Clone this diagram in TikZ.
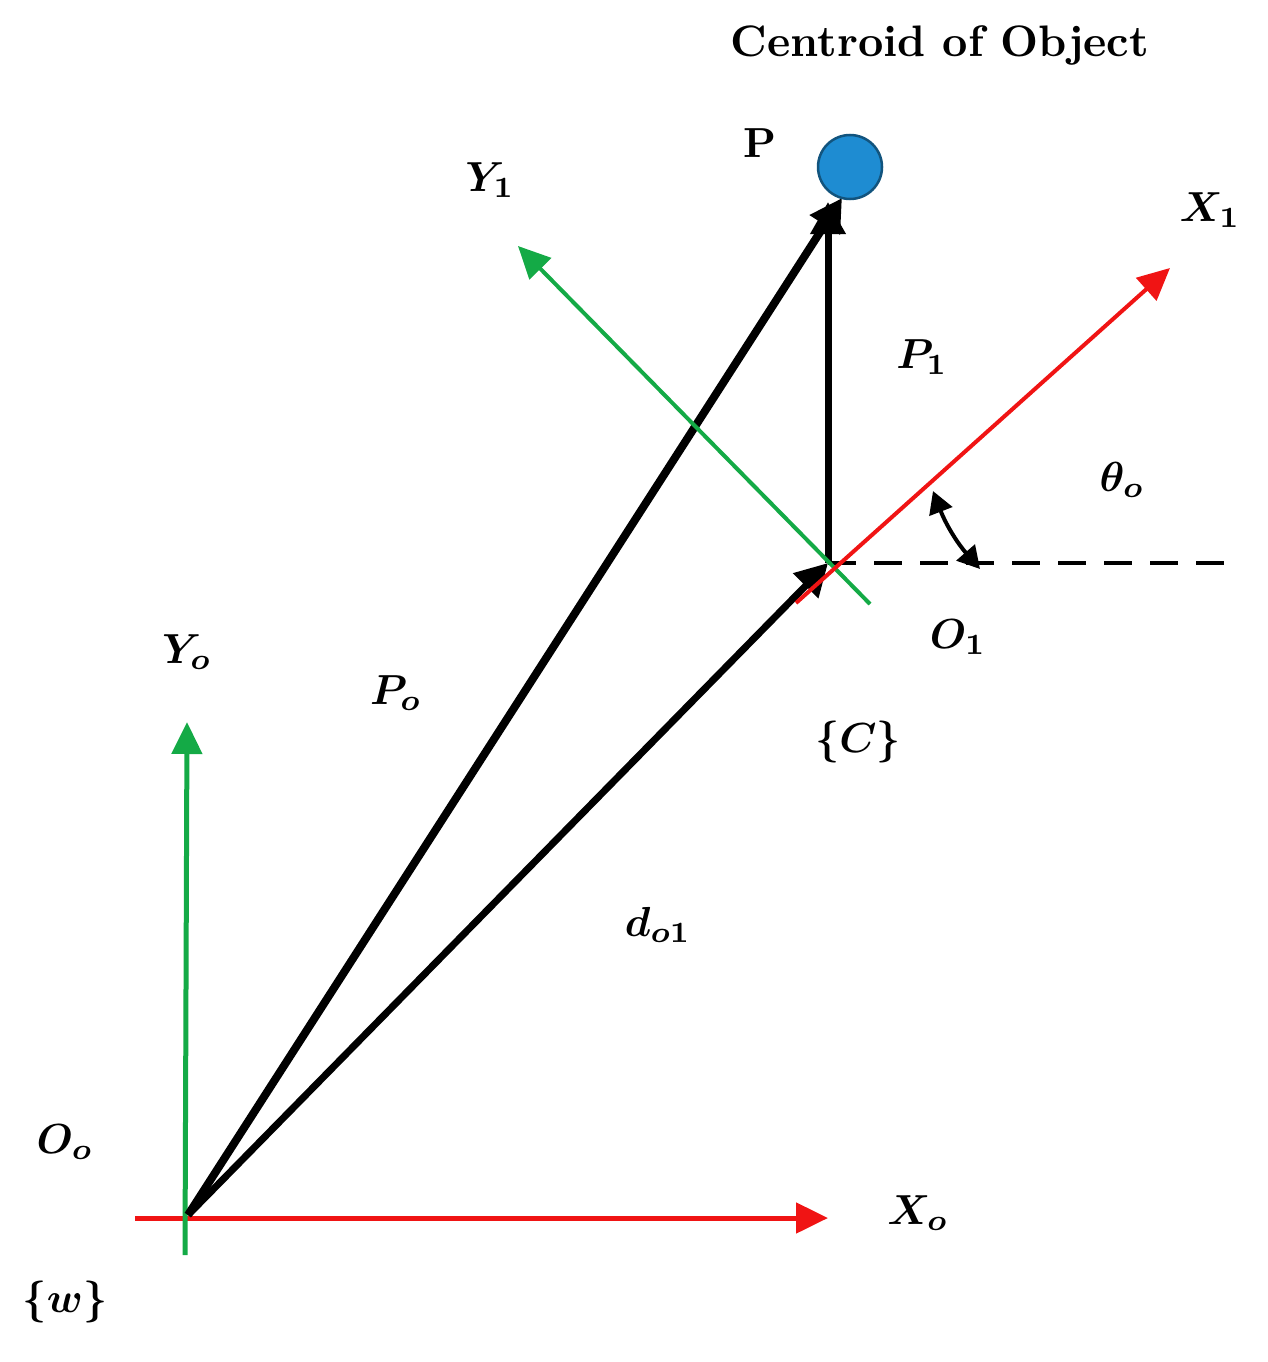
\documentclass[tikz,border=0pt]{standalone}
\usetikzlibrary{arrows.meta}
\definecolor{rd}{RGB}{240,20,20}
\definecolor{gr}{RGB}{20,170,70}
\definecolor{bl}{RGB}{30,140,210}
\begin{document}
\begin{tikzpicture}[x=1pt,y=-1pt,
  ax/.style={line width=5pt,-{Triangle[length=32pt,width=30pt]}},
  vec/.style={line width=8pt,black,-{Triangle[length=32pt,width=34pt]}},
  lab/.style={scale=4.2,font=\boldmath}]
\useasboundingbox (0,0) rectangle (1267,1362);
\coordinate (O0) at (188,1215);
\coordinate (O1) at (828,563);
\coordinate (xs) at (135,1218); \coordinate (xe) at (828,1218);
\coordinate (ys) at (185,1255); \coordinate (ye) at (187,722);
\coordinate (pt) at (842,198);
\coordinate (p1t) at (828,202);
\coordinate (x1s) at (796,603); \coordinate (x1e) at (1170,268);
\coordinate (y1s) at (870,604); \coordinate (y1e) at (518,246);
\coordinate (de) at (1235,563);
\coordinate (a1) at (933,491); \coordinate (a2) at (980,569);
\draw[ax,rd] (xs) -- (xe);
\draw[ax,gr] (ys) -- (ye);
\draw[dashed,line width=4pt,dash pattern=on 28pt off 18pt] (O1) -- (de);
\draw[vec] (O0) -- (pt);
\draw[vec,line width=7pt] (O0) -- (O1);
\draw[vec,line width=7pt] (O1) -- (p1t);
\draw[ax,gr,line width=4pt] (y1s) -- (y1e);
\draw[ax,rd,line width=4pt] (x1s) -- (x1e);
\draw[line width=4pt,{Triangle[length=22pt,width=24pt]}-{Triangle[length=22pt,width=24pt]}] (a1) to[bend right=10] (a2);
\node[circle,fill=bl,draw=bl!60!black,line width=2.5pt,minimum size=64pt] (P) at (850,167) {};
\node[lab,scale=1.05] (t) at (940,45) {\textbf{Centroid of Object}};
\node[lab] (lP) at (760,143) {\textbf{P}};
\node[lab] (lY1) at (490,180) {$Y_1$};
\node[lab] (lX1) at (1210,210) {$X_1$};
\node[lab] (lP1) at (922,357) {$P_1$};
\node[lab] (lth) at (1122,480) {$\theta_o$};
\node[lab] (lO1) at (958,637) {$O_1$};
\node[lab] (lC) at (858,742) {$\{C\}$};
\node[lab] (lY0) at (187,652) {$Y_o$};
\node[lab] (lP0) at (396,693) {$P_o$};
\node[lab] (ld) at (658,925) {$d_{o1}$};
\node[lab] (lO0) at (65,1142) {$O_o$};
\node[lab] (lX0) at (918,1213) {$X_o$};
\node[lab] (lw) at (65,1302) {$\{w\}$};
\end{tikzpicture}
\end{document}
